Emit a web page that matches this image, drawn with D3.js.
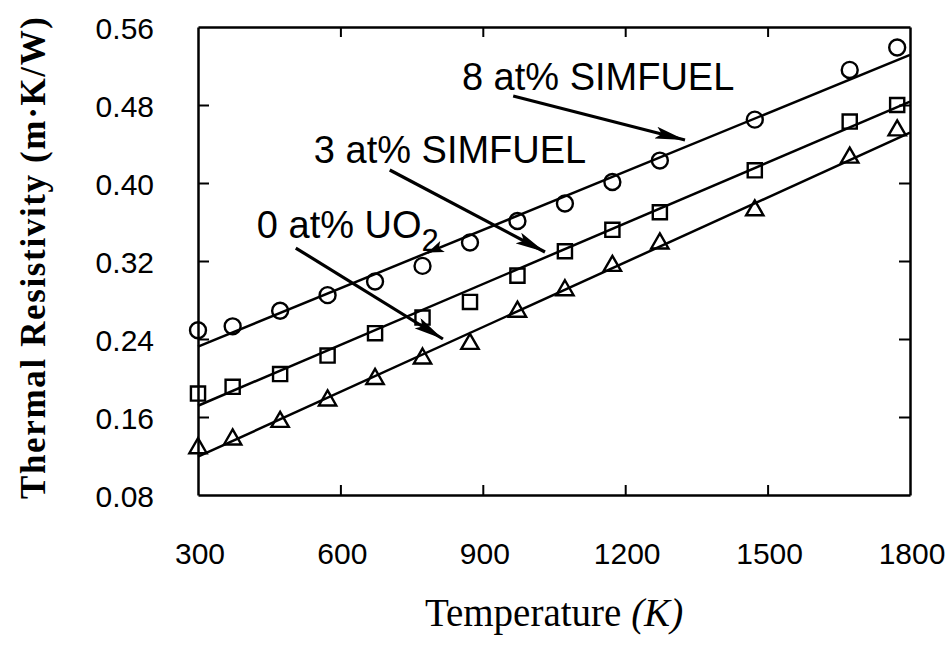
<!DOCTYPE html>
<html>
<head>
<meta charset="utf-8">
<script src="https://cdn.jsdelivr.net/npm/d3@7"></script>
<style>
  html, body { margin: 0; padding: 0; background: #fff; }
  svg { display: block; }
</style>
</head>
<body>
<div id="chart"></div>
<script>
// Measured temperatures (K) and thermal resistivity (m·K/W)
const temperatures = [300, 373, 473, 573, 673, 773, 873, 973, 1073, 1173, 1273, 1473, 1673, 1773];
const simfuel8 = [0.249, 0.253, 0.269, 0.285, 0.299, 0.315, 0.339, 0.361, 0.379, 0.401, 0.423, 0.465, 0.516, 0.539];
const simfuel3 = [0.184, 0.191, 0.204, 0.223, 0.246, 0.262, 0.278, 0.305, 0.330, 0.352, 0.370, 0.413, 0.463, 0.480];
const uo2      = [0.128, 0.137, 0.155, 0.177, 0.199, 0.220, 0.235, 0.268, 0.290, 0.315, 0.338, 0.372, 0.426, 0.454];

// Linear fits R = a + b*T for each series
const fitIntercepts = [0.1723, 0.1092, 0.0528];
const fitSlopes     = [1.9947e-4, 2.0787e-4, 2.2153e-4];

const xTicks = [300, 600, 900, 1200, 1500, 1800];
const yTicks = [0.08, 0.16, 0.24, 0.32, 0.40, 0.48, 0.56];

// Callout labels: text, label anchor (T, R), arrow start and arrow tip (T, R)
const calloutText  = ["8 at% SIMFUEL", "3 at% SIMFUEL", "0 at% UO"];
const calloutLabel = [[856, 0.4954], [544, 0.4205], [424, 0.3436]];
const calloutFrom  = [[964, 0.4892], [704, 0.4133], [506, 0.3333]];
const calloutTo    = [[1326, 0.4441], [1031, 0.3292], [816, 0.2400]];

// Small stray arrowhead sitting on the 8 at% fit line (tail T, tip T)
const strayHead = [800, 784];

const W = 948, H = 647;
const svg = d3.select("#chart").append("svg").attr("width", W).attr("height", H)
  .style("background", "#fff");

const x = d3.scaleLinear().domain([300, 1800]).range([198, 910]);
const y = d3.scaleLinear().domain([0.08, 0.56]).range([495, 27]);

const sans = "'Liberation Sans', Arial, Helvetica, sans-serif";
const serif = "'Liberation Serif', 'Times New Roman', Times, serif";

// Frame with inward ticks on all four sides
function styleAxis(g) {
  g.select(".domain").attr("stroke", "#000").attr("stroke-width", 2.5);
  g.selectAll(".tick line").attr("stroke", "#000").attr("stroke-width", 2);
  g.selectAll(".tick text").remove();
}
const innerTicksX = xTicks.slice(1, -1);
const innerTicksY = yTicks.slice(1, -1);
svg.append("g").attr("transform", `translate(0,${y(0.08)})`)
  .call(d3.axisBottom(x).tickValues(innerTicksX).tickSize(-10).tickSizeOuter(0)).call(styleAxis);
svg.append("g").attr("transform", `translate(0,${y(0.56)})`)
  .call(d3.axisTop(x).tickValues(innerTicksX).tickSize(-10).tickSizeOuter(0)).call(styleAxis);
svg.append("g").attr("transform", `translate(${x(300)},0)`)
  .call(d3.axisLeft(y).tickValues(innerTicksY).tickSize(-11).tickSizeOuter(0)).call(styleAxis);
svg.append("g").attr("transform", `translate(${x(1800)},0)`)
  .call(d3.axisRight(y).tickValues(innerTicksY).tickSize(-11).tickSizeOuter(0)).call(styleAxis);

// Tick labels
svg.append("g").selectAll("text").data(xTicks).join("text")
  .attr("x", d => x(d) + 2).attr("y", 564)
  .attr("text-anchor", "middle")
  .style("font-family", sans).style("font-size", "30px").attr("fill", "#000")
  .text(d => d);
svg.append("g").selectAll("text").data(yTicks).join("text")
  .attr("x", 154).attr("y", d => y(d) + 12)
  .attr("text-anchor", "end")
  .style("font-family", sans).style("font-size", "30px").attr("fill", "#000")
  .text(d => d.toFixed(2));

// Axis titles
const xt = svg.append("text").attr("x", 554).attr("y", 626).attr("text-anchor", "middle")
  .style("font-family", serif).style("font-size", "39px").attr("fill", "#000");
xt.append("tspan").text("Temperature ");
xt.append("tspan").style("font-style", "italic").text("(K)");

svg.append("text")
  .attr("transform", "translate(45,258) rotate(-90)")
  .attr("text-anchor", "middle")
  .attr("textLength", 482).attr("lengthAdjust", "spacing")
  .style("font-family", serif).style("font-size", "35px").style("font-weight", "bold")
  .attr("fill", "#000")
  .text("Thermal Resistivity (m·K/W)");

// Fitted lines and measured points
const fitLine = d3.line().x(d => x(d[0])).y(d => y(d[1]));
const series = [simfuel8, simfuel3, uo2];
const symbols = [d3.symbolCircle, d3.symbolSquare, d3.symbolTriangle];
const symSizes = [200, 200, 130];
series.forEach((vals, i) => {
  const pts = x.domain().map(T => [T, fitIntercepts[i] + fitSlopes[i] * T]);
  svg.append("path").attr("d", fitLine(pts))
    .attr("fill", "none").attr("stroke", "#000").attr("stroke-width", 2.5);
  svg.append("g").selectAll("path").data(temperatures).join("path")
    .attr("transform", (T, j) => `translate(${x(T)},${y(vals[j])})`)
    .attr("d", d3.symbol().type(symbols[i]).size(symSizes[i]))
    .attr("fill", "none").attr("stroke", "#000").attr("stroke-width", 2.4);
});

// Arrowheads
const defs = svg.append("defs");
defs.append("marker")
  .attr("id", "head").attr("viewBox", "0 0 30 12")
  .attr("refX", 30).attr("refY", 6)
  .attr("markerWidth", 30).attr("markerHeight", 12)
  .attr("markerUnits", "userSpaceOnUse").attr("orient", "auto")
  .append("path").attr("d", "M0,0 L30,6 L0,12 L6,6 Z").attr("fill", "#000");
defs.append("marker")
  .attr("id", "smallhead").attr("viewBox", "0 0 16 12")
  .attr("refX", 16).attr("refY", 6)
  .attr("markerWidth", 16).attr("markerHeight", 12)
  .attr("markerUnits", "userSpaceOnUse").attr("orient", "auto")
  .append("path").attr("d", "M0,0 L16,6 L0,12 L4,6 Z").attr("fill", "#000");

calloutText.forEach((t, i) => {
  const txt = svg.append("text")
    .attr("x", x(calloutLabel[i][0])).attr("y", y(calloutLabel[i][1]))
    .style("font-family", sans).style("font-size", "38px").attr("fill", "#000");
  txt.append("tspan").text(t);
  if (i === 2) {
    txt.append("tspan").attr("dy", 13).style("font-size", "31px").text("2");
  }
  svg.append("line")
    .attr("x1", x(calloutFrom[i][0])).attr("y1", y(calloutFrom[i][1]))
    .attr("x2", x(calloutTo[i][0])).attr("y2", y(calloutTo[i][1]))
    .attr("stroke", "#000").attr("stroke-width", 3.2)
    .attr("marker-end", "url(#head)");
});

svg.append("path")
  .attr("d", fitLine(strayHead.map(T => [T, fitIntercepts[0] + fitSlopes[0] * T])))
  .attr("stroke", "#000").attr("stroke-width", 2.5).attr("fill", "none")
  .attr("marker-end", "url(#smallhead)");
</script>
</body>
</html>
